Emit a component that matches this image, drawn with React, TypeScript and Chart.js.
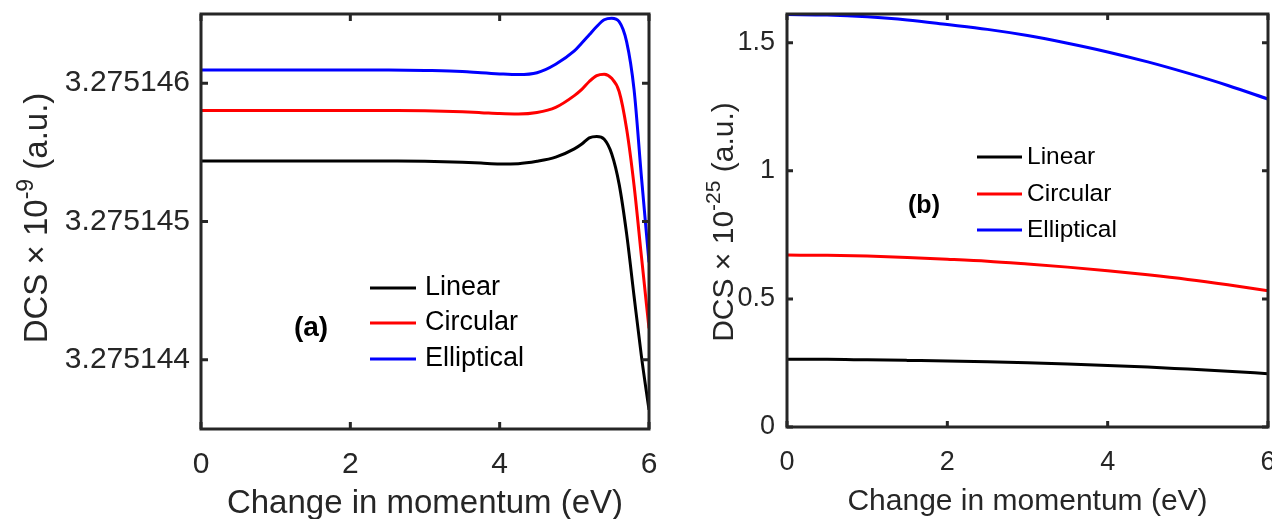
import React, { useEffect, useRef } from "react";
import { Chart, registerables } from "chart.js";

Chart.register(...registerables);

// ---------- data ----------
const seriesNames = ["Linear", "Circular", "Elliptical"];
const seriesColors = ["#000000", "#ff0000", "#0000ff"];
const xTickValues = [0, 2, 4, 6];

// Panel (a)
const momentumA = [0, 0.5, 1, 1.5, 2, 2.5, 3, 3.5, 3.75, 4, 4.25, 4.5, 4.75, 5, 5.1, 5.2, 5.3, 5.4, 5.5, 5.6, 5.7, 5.8, 5.9, 6];
const linearA = [
  3.275145438, 3.275145438, 3.275145438, 3.275145438, 3.275145438, 3.275145437, 3.275145435, 3.275145428,
  3.275145422, 3.275145416, 3.275145418, 3.275145435, 3.275145465, 3.275145525, 3.27514556, 3.275145605,
  3.275145615, 3.275145595, 3.27514549, 3.27514527, 3.275144912, 3.27514446, 3.27514402, 3.275143639,
];
const circularA = [
  3.275145803, 3.275145803, 3.275145803, 3.275145803, 3.275145803, 3.275145802, 3.2751458, 3.275145793,
  3.275145787, 3.27514578, 3.275145777, 3.275145788, 3.275145825, 3.27514591, 3.275145955, 3.275146012,
  3.275146055, 3.275146065, 3.275146035, 3.27514594, 3.27514567, 3.27514526, 3.27514474, 3.275144228,
];
const ellipticalA = [
  3.275146096, 3.275146096, 3.275146096, 3.275146096, 3.275146096, 3.275146095, 3.275146092, 3.275146085,
  3.275146075, 3.275146067, 3.275146062, 3.275146075, 3.275146137, 3.275146233, 3.27514629, 3.27514635,
  3.27514641, 3.275146458, 3.27514647, 3.275146445, 3.2751463, 3.275145953, 3.275145313, 3.275144705,
];
const yTickValuesA = [3.275144, 3.275145, 3.275146];

// Panel (b)
const momentumB = [0, 0.5, 1, 1.5, 2, 2.5, 3, 3.5, 4, 4.5, 5, 5.5, 6];
const linearB = [0.264, 0.264, 0.262, 0.26, 0.258, 0.255, 0.251, 0.246, 0.24, 0.234, 0.226, 0.218, 0.208];
const circularB = [0.671, 0.67, 0.667, 0.662, 0.655, 0.647, 0.636, 0.624, 0.61, 0.594, 0.576, 0.555, 0.532];
const ellipticalB = [1.61, 1.608, 1.601, 1.589, 1.571, 1.552, 1.528, 1.498, 1.464, 1.425, 1.381, 1.333, 1.28];
const yTickValuesB = [0, 0.5, 1, 1.5];

// ---------- styling ----------
const FONT = '"Liberation Sans", Arial, Helvetica, sans-serif';
const AXIS_COLOR = "#262626";

type Panel = {
  left: number;
  width: number;
  axisW: number;
  xAxisH: number;
  padRight: number;
  x: number[];
  series: number[][];
  yMin: number;
  yMax: number;
  yTicks: number[];
  yFmt: (v: number) => string;
  tickSize: number;
  yTickPad: number;
  xTickPad: number;
  tickLen: number;
  titleSize: number;
  xTitleBaseline: number;
  yTitleX: number;
  yTitleY: number;
  exp: string;
  legend: { x1: number; x2: number; tx: number; ys: number[]; size: number };
  tag: { text: string; x: number; y: number; size: number };
};

const panelA: Panel = {
  left: 0,
  width: 670,
  axisW: 201,
  xAxisH: 90,
  padRight: 21,
  x: momentumA,
  series: [linearA, circularA, ellipticalA],
  yMin: 3.2751435,
  yMax: 3.2751465,
  yTicks: yTickValuesA,
  yFmt: (v) => v.toFixed(6),
  tickSize: 30,
  yTickPad: 11,
  xTickPad: 18,
  tickLen: 7,
  titleSize: 33,
  xTitleBaseline: 513,
  yTitleX: 47,
  yTitleY: 218,
  exp: "-9",
  legend: { x1: 370, x2: 416, tx: 425, ys: [288, 323, 359], size: 27 },
  tag: { text: "(a)", x: 311, y: 328, size: 28 },
};

const panelB: Panel = {
  left: 670,
  width: 602,
  axisW: 117,
  xAxisH: 92,
  padRight: 4,
  x: momentumB,
  series: [linearB, circularB, ellipticalB],
  yMin: 0,
  yMax: 1.612,
  yTicks: yTickValuesB,
  yFmt: (v) => String(v),
  tickSize: 27,
  yTickPad: 12,
  xTickPad: 19,
  tickLen: 6,
  titleSize: 30,
  xTitleBaseline: 510,
  yTitleX: 63,
  yTitleY: 222,
  exp: "-25",
  legend: { x1: 307, x2: 352, tx: 357, ys: [157, 194, 230], size: 24.5 },
  tag: { text: "(b)", x: 254, y: 206, size: 25 },
};

function decorPlugin(p: Panel) {
  return {
    id: "decor",
    afterDraw(chart: any) {
      const ctx: CanvasRenderingContext2D = chart.ctx;
      const a = chart.chartArea;
      const xs = chart.scales.x;
      const ys = chart.scales.y;
      ctx.save();
      // frame
      ctx.strokeStyle = AXIS_COLOR;
      ctx.lineWidth = 3;
      ctx.lineCap = "square";
      ctx.strokeRect(a.left, a.top, a.right - a.left, a.bottom - a.top);
      // inner ticks
      ctx.beginPath();
      for (const v of xTickValues) {
        const px = xs.getPixelForValue(v);
        ctx.moveTo(px, a.bottom);
        ctx.lineTo(px, a.bottom - p.tickLen);
        ctx.moveTo(px, a.top);
        ctx.lineTo(px, a.top + p.tickLen);
      }
      for (const v of p.yTicks) {
        const py = ys.getPixelForValue(v);
        ctx.moveTo(a.left, py);
        ctx.lineTo(a.left + p.tickLen, py);
        ctx.moveTo(a.right, py);
        ctx.lineTo(a.right - p.tickLen, py);
      }
      ctx.lineCap = "butt";
      ctx.stroke();

      // x title
      ctx.fillStyle = AXIS_COLOR;
      ctx.font = `${p.titleSize}px ${FONT}`;
      ctx.textAlign = "center";
      ctx.textBaseline = "alphabetic";
      ctx.fillText("Change in momentum (eV)", (a.left + a.right) / 2, p.xTitleBaseline);

      // y title with superscript
      ctx.save();
      ctx.translate(p.yTitleX, p.yTitleY);
      ctx.rotate(-Math.PI / 2);
      const big = `${p.titleSize}px ${FONT}`;
      const small = `${Math.round(p.titleSize * 0.7)}px ${FONT}`;
      const t1 = "DCS \u00d7 10";
      const t3 = " (a.u.)";
      ctx.font = big;
      const w1 = ctx.measureText(t1).width;
      const w3 = ctx.measureText(t3).width;
      ctx.font = small;
      const w2 = ctx.measureText(p.exp).width;
      const x0 = -(w1 + w2 + w3) / 2;
      ctx.textAlign = "left";
      ctx.font = big;
      ctx.fillText(t1, x0, 0);
      ctx.font = small;
      ctx.fillText(p.exp, x0 + w1, -p.titleSize * 0.42);
      ctx.font = big;
      ctx.fillText(t3, x0 + w1 + w2, 0);
      ctx.restore();

      // legend
      ctx.font = `${p.legend.size}px ${FONT}`;
      ctx.textAlign = "left";
      ctx.textBaseline = "middle";
      seriesNames.forEach((name, i) => {
        const y = p.legend.ys[i];
        ctx.strokeStyle = seriesColors[i];
        ctx.lineWidth = 3;
        ctx.beginPath();
        ctx.moveTo(p.legend.x1, y);
        ctx.lineTo(p.legend.x2, y);
        ctx.stroke();
        ctx.fillStyle = "#000000";
        ctx.fillText(name, p.legend.tx, y);
      });

      // panel tag
      ctx.font = `bold ${p.tag.size}px ${FONT}`;
      ctx.textAlign = "center";
      ctx.textBaseline = "middle";
      ctx.fillStyle = "#000000";
      ctx.fillText(p.tag.text, p.tag.x, p.tag.y);
      ctx.restore();
    },
  };
}

function makeConfig(p: Panel): any {
  return {
    type: "line",
    data: {
      datasets: seriesNames.map((name, i) => ({
        label: name,
        data: p.x.map((xv, j) => ({ x: xv, y: p.series[i][j] })),
        borderColor: seriesColors[i],
        backgroundColor: seriesColors[i],
        borderWidth: 3,
        pointRadius: 0,
        fill: false,
        cubicInterpolationMode: "monotone",
        order: 3 - i,
      })),
    },
    options: {
      animation: false,
      responsive: false,
      maintainAspectRatio: false,
      events: [],
      layout: { padding: { top: 14, right: p.padRight, left: 0, bottom: 0 } },
      plugins: { legend: { display: false }, tooltip: { enabled: false } },
      scales: {
        x: {
          type: "linear",
          min: 0,
          max: 6,
          grid: { display: false, drawTicks: false },
          border: { display: false },
          ticks: {
            font: { family: FONT, size: p.tickSize },
            color: AXIS_COLOR,
            padding: p.xTickPad,
            maxRotation: 0,
            autoSkip: false,
            callback: (v: number) => String(v),
          },
          afterBuildTicks: (s: any) => {
            s.ticks = xTickValues.map((v) => ({ value: v }));
          },
          afterFit: (s: any) => {
            s.height = p.xAxisH;
            s.paddingLeft = 0;
            s.paddingRight = 0;
          },
        },
        y: {
          type: "linear",
          min: p.yMin,
          max: p.yMax,
          grid: { display: false, drawTicks: false },
          border: { display: false },
          ticks: {
            font: { family: FONT, size: p.tickSize },
            color: AXIS_COLOR,
            padding: p.yTickPad,
            autoSkip: false,
            callback: (v: number) => p.yFmt(v),
          },
          afterBuildTicks: (s: any) => {
            s.ticks = p.yTicks.map((v) => ({ value: v }));
          },
          afterFit: (s: any) => {
            s.width = p.axisW;
            s.paddingTop = 0;
            s.paddingBottom = 0;
          },
        },
      },
    },
    plugins: [decorPlugin(p)],
  };
}

function PanelChart({ p }: { p: Panel }) {
  const ref = useRef<HTMLCanvasElement | null>(null);
  useEffect(() => {
    if (!ref.current) return;
    const chart = new Chart(ref.current, makeConfig(p));
    return () => chart.destroy();
  }, [p]);
  return (
    <canvas
      ref={ref}
      width={p.width}
      height={519}
      style={{ position: "absolute", left: p.left, top: 0, width: p.width, height: 519 }}
    />
  );
}

export default function App() {
  return (
    <div
      style={{
        position: "fixed",
        left: 0,
        top: 0,
        width: 1272,
        height: 519,
        overflow: "hidden",
        background: "#ffffff",
      }}
    >
      <PanelChart p={panelA} />
      <PanelChart p={panelB} />
    </div>
  );
}
